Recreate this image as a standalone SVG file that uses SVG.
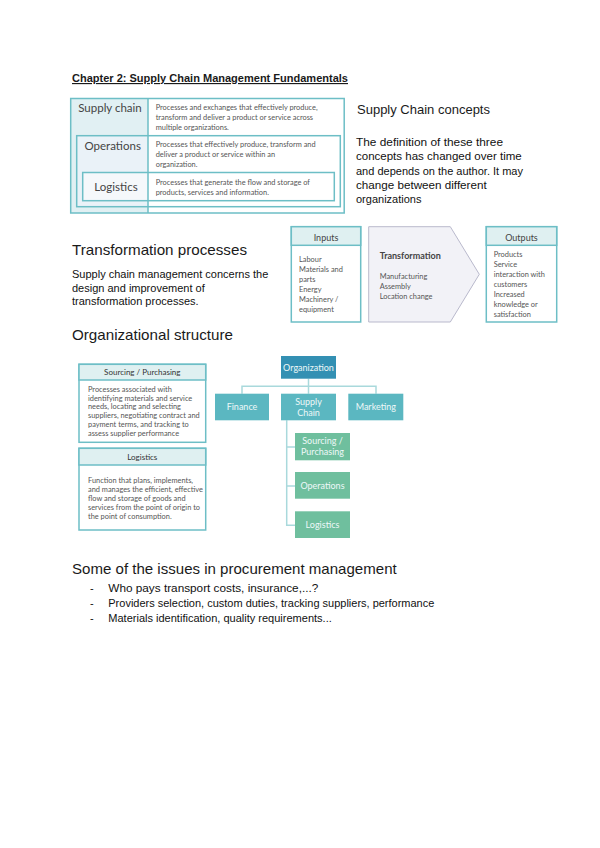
<svg xmlns="http://www.w3.org/2000/svg" width="600" height="848" viewBox="0 0 600 848">
<style>
.h{font-family:"Liberation Sans",Arial,sans-serif;fill:#1a1a1a}
.p{font-family:"Liberation Sans",Arial,sans-serif;font-size:11px;fill:#111}
.c{font-family:Lato,"Open Sans",sans-serif}
.box{fill:none;stroke:#6dbec6;stroke-width:1.5}
.sm{font-family:Lato,"Open Sans",sans-serif;font-size:7.4px;fill:#555}
.hdr{fill:#dff0f1;stroke:#6dbec6;stroke-width:1.5}
.teal{fill:#5bb7c1}
.grn{fill:#6fbf9e}
.wt{font-family:Lato,"Open Sans",sans-serif;font-size:9px;fill:#eef8f8;text-anchor:middle}
.ln{stroke:#a9d9dc;stroke-width:1.5;fill:none}
</style>
<rect width="600" height="848" fill="#ffffff"/>

<text class="h" x="72" y="82" font-size="11.5" font-weight="bold" text-decoration="underline" textLength="276" lengthAdjust="spacingAndGlyphs">Chapter 2: Supply Chain Management Fundamentals</text>

<!-- Nested concept boxes -->
<g id="concepts">
  <rect x="70.7" y="98.5" width="77.3" height="114.5" fill="#e1f0f3"/>
  <rect x="76.7" y="135.7" width="71.3" height="71" fill="#eaf2f8"/>
  <rect x="82.7" y="172.5" width="65.3" height="28.2" fill="#f5f8fb"/>
  <rect class="box" x="70.7" y="98.5" width="273.5" height="114.5"/>
  <rect class="box" x="76.7" y="135.7" width="263.6" height="71"/>
  <rect class="box" x="82.7" y="172.5" width="251.6" height="28.2"/>
  <line class="box" x1="148" y1="98.5" x2="148" y2="213"/>
  <text class="c" x="110" y="112" font-size="11.5" fill="#444" text-anchor="middle">Supply chain</text>
  <text class="c" x="112.7" y="150" font-size="11.5" fill="#444" text-anchor="middle">Operations</text>
  <text class="c" x="116" y="190.5" font-size="11.5" fill="#444" text-anchor="middle">Logistics</text>
  <text class="sm" x="155.7" y="110">Processes and exchanges that effectively produce,</text>
  <text class="sm" x="155.7" y="120">transform and deliver a product or service across</text>
  <text class="sm" x="155.7" y="130">multiple organizations.</text>
  <text class="sm" x="155.7" y="146.8">Processes that effectively produce, transform and</text>
  <text class="sm" x="155.7" y="156.8">deliver a product or service within an</text>
  <text class="sm" x="155.7" y="166.8">organization.</text>
  <text class="sm" x="155.7" y="184.5">Processes that generate the flow and storage of</text>
  <text class="sm" x="155.7" y="194.5">products, services and information.</text>
</g>

<text class="h" x="357" y="114" font-size="13" textLength="133" lengthAdjust="spacingAndGlyphs">Supply Chain concepts</text>
<text class="p" x="356" y="145.5" textLength="147" lengthAdjust="spacingAndGlyphs">The definition of these three</text>
<text class="p" x="356" y="160" textLength="165.7" lengthAdjust="spacingAndGlyphs">concepts has changed over time</text>
<text class="p" x="356" y="174.5" textLength="167" lengthAdjust="spacingAndGlyphs">and depends on the author. It may</text>
<text class="p" x="356" y="189" textLength="130.7" lengthAdjust="spacingAndGlyphs">change between different</text>
<text class="p" x="356" y="203.3">organizations</text>

<text class="h" x="72" y="255" font-size="14.4" textLength="175" lengthAdjust="spacingAndGlyphs">Transformation processes</text>
<text class="p" x="72" y="278">Supply chain management concerns the</text>
<text class="p" x="72" y="291.5">design and improvement of</text>
<text class="p" x="72" y="304.5">transformation processes.</text>

<!-- Transformation process -->
<g id="inputs">
  <rect x="291.3" y="226.7" width="69.4" height="95.3" fill="#fff" stroke="#6dbec6" stroke-width="1.5"/>
  <rect class="hdr" x="291.3" y="226.7" width="69.4" height="18.6"/>
  <text class="c" x="326" y="241" font-size="9" fill="#444" text-anchor="middle">Inputs</text>
  <text class="sm" x="299" y="262">Labour</text>
  <text class="sm" x="299" y="272">Materials and</text>
  <text class="sm" x="299" y="282">parts</text>
  <text class="sm" x="299" y="292">Energy</text>
  <text class="sm" x="299" y="302">Machinery /</text>
  <text class="sm" x="299" y="312">equipment</text>
</g>
<g id="transformation">
  <polygon points="368.7,226.7 450.3,226.7 479.3,274.3 450.3,322 368.7,322" fill="#f2f2f7" stroke="#b9b9cc" stroke-width="1"/>
  <text class="c" x="379.7" y="258.5" font-size="9" fill="#444" font-weight="bold">Transformation</text>
  <text class="sm" x="379.7" y="279">Manufacturing</text>
  <text class="sm" x="379.7" y="289">Assembly</text>
  <text class="sm" x="379.7" y="299">Location change</text>
</g>
<g id="outputs">
  <rect x="486.3" y="226.7" width="70.4" height="95.3" fill="#fff" stroke="#6dbec6" stroke-width="1.5"/>
  <rect class="hdr" x="486.3" y="226.7" width="70.4" height="18.6"/>
  <text class="c" x="521.5" y="241" font-size="9" fill="#444" text-anchor="middle">Outputs</text>
  <text class="sm" x="493.7" y="257">Products</text>
  <text class="sm" x="493.7" y="267">Service</text>
  <text class="sm" x="493.7" y="277">interaction with</text>
  <text class="sm" x="493.7" y="287">customers</text>
  <text class="sm" x="493.7" y="297">Increased</text>
  <text class="sm" x="493.7" y="307">knowledge or</text>
  <text class="sm" x="493.7" y="317">satisfaction</text>
</g>

<text class="h" x="72" y="340" font-size="14.4" textLength="161" lengthAdjust="spacingAndGlyphs">Organizational structure</text>

<!-- Definition boxes -->
<g id="def-sourcing">
  <rect x="79" y="364.3" width="126.7" height="78" fill="#fff" stroke="#6dbec6" stroke-width="1.5"/>
  <rect class="hdr" x="79" y="364.3" width="126.7" height="15.7"/>
  <text class="c" x="142.3" y="375" font-size="8" fill="#333" text-anchor="middle">Sourcing / Purchasing</text>
  <text class="sm" x="88" y="391.5" font-size="6.6">Processes associated with</text>
  <text class="sm" x="88" y="400.5" font-size="6.6">identifying materials and service</text>
  <text class="sm" x="88" y="409.3" font-size="6.6">needs, locating and selecting</text>
  <text class="sm" x="88" y="418.3" font-size="6.6">suppliers, negotiating contract and</text>
  <text class="sm" x="88" y="427.3" font-size="6.6">payment terms, and tracking to</text>
  <text class="sm" x="88" y="436.3" font-size="6.6">assess supplier performance</text>
</g>
<g id="def-logistics">
  <rect x="79" y="448.3" width="126.7" height="81.7" fill="#fff" stroke="#6dbec6" stroke-width="1.5"/>
  <rect class="hdr" x="79" y="448.3" width="126.7" height="16.7"/>
  <text class="c" x="142.3" y="459.5" font-size="8" fill="#333" text-anchor="middle">Logistics</text>
  <text class="sm" x="88" y="482.5" font-size="6.6">Function that plans, implements,</text>
  <text class="sm" x="88" y="491.5" font-size="6.6">and manages the efficient, effective</text>
  <text class="sm" x="88" y="500.5" font-size="6.6">flow and storage of goods and</text>
  <text class="sm" x="88" y="509.5" font-size="6.6">services from the point of origin to</text>
  <text class="sm" x="88" y="518.5" font-size="6.6">the point of consumption.</text>
</g>

<!-- Org chart connectors -->
<g id="connectors">
  <polyline class="ln" points="308.5,378.7 308.5,386.3"/>
  <polyline class="ln" points="242,393.7 242,386.3 376,386.3 376,393.7"/>
  <polyline class="ln" points="308.5,386.3 308.5,393.7"/>
  <polyline class="ln" points="286.7,420.3 286.7,525.3 295,525.3"/>
  <line class="ln" x1="286.7" y1="447" x2="295" y2="447"/>
  <line class="ln" x1="286.7" y1="486" x2="295" y2="486"/>
</g>
<g id="org">
  <rect x="281" y="356" width="55" height="22.7" fill="#3390b3"/>
  <text class="wt" x="308.5" y="370.5">Organization</text>
</g>
<g id="finance">
  <rect class="teal" x="215" y="393.7" width="54" height="26.6"/>
  <text class="wt" x="242" y="410">Finance</text>
</g>
<g id="supplychain">
  <rect class="teal" x="281" y="393.7" width="55" height="26.6"/>
  <text class="wt" x="308.5" y="404.5">Supply</text>
  <text class="wt" x="308.5" y="415.5">Chain</text>
</g>
<g id="marketing">
  <rect class="teal" x="348.3" y="393.7" width="55" height="26.6"/>
  <text class="wt" x="375.8" y="410">Marketing</text>
</g>
<g id="sourcing">
  <rect class="grn" x="295" y="433" width="55" height="27.3"/>
  <text class="wt" x="322.5" y="443.5">Sourcing /</text>
  <text class="wt" x="322.5" y="454.5">Purchasing</text>
</g>
<g id="operations">
  <rect class="grn" x="295" y="472" width="55" height="26.7"/>
  <text class="wt" x="322.5" y="488.5">Operations</text>
</g>
<g id="logistics">
  <rect class="grn" x="295" y="511.3" width="55" height="26.7"/>
  <text class="wt" x="322.5" y="528">Logistics</text>
</g>

<text class="h" x="72" y="573.5" font-size="14.4" textLength="324.7" lengthAdjust="spacingAndGlyphs">Some of the issues in procurement management</text>
<text class="p" x="90" y="591.5">-</text>
<text class="p" x="108.3" y="591.5" textLength="210" lengthAdjust="spacingAndGlyphs">Who pays transport costs, insurance,...?</text>
<text class="p" x="90" y="606.5">-</text>
<text class="p" x="108.3" y="606.5" textLength="326" lengthAdjust="spacingAndGlyphs">Providers selection, custom duties, tracking suppliers, performance</text>
<text class="p" x="90" y="621.5">-</text>
<text class="p" x="108.3" y="621.5" textLength="223.5" lengthAdjust="spacingAndGlyphs">Materials identification, quality requirements...</text>
</svg>
